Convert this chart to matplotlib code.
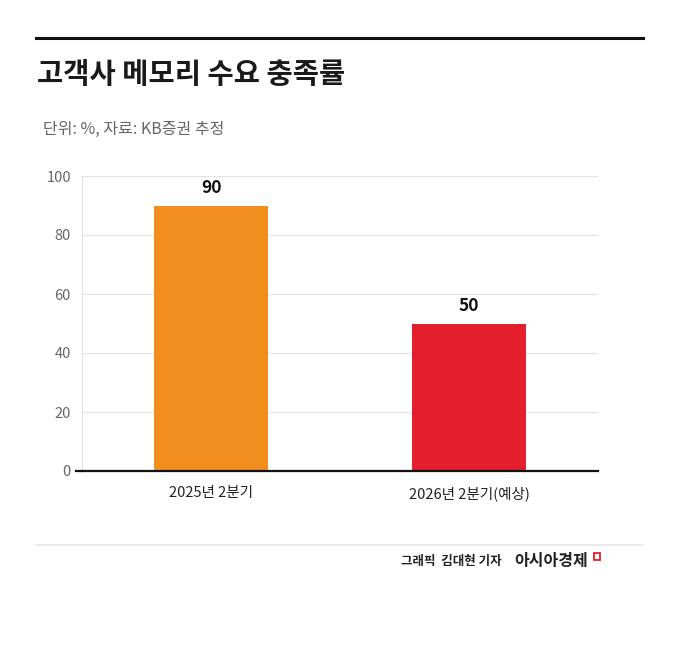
import matplotlib.pyplot as plt
from matplotlib.lines import Line2D
from matplotlib.patches import Rectangle

plt.rcParams['font.family'] = ['Noto Sans CJK KR', 'DejaVu Sans']

categories = ["2025년 2분기", "2026년 2분기(예상)"]
values = [90, 50]
colors = ["#F28E1E", "#E31E2D"]
yticks = [0, 20, 40, 60, 80, 100]

fig = plt.figure(figsize=(6.8, 6.72), dpi=100)
fig.patch.set_facecolor("white")

# title block
fig.add_artist(Line2D([36/680, 643/680], [1-38/672, 1-38/672], color="#111111", lw=2.2))
fig.text(37/680, 1-75/672, "고객사 메모리 수요 충족률", fontsize=20.5, fontweight="bold",
         color="#1a1a1a", va="center", ha="left")
fig.text(43/680, 1-129/672, "단위: %, 자료: KB증권 추정", fontsize=11.5,
         color="#666666", va="center", ha="left")

ax = fig.add_axes([82/680, 1-471/672, 516/680, 295/672])
x = range(len(categories))
ax.bar(x, values, width=0.44, color=colors, zorder=3)
for i, v in enumerate(values):
    ax.text(i, v + 6, str(v), ha="center", va="center", fontsize=12.5,
            fontweight="bold", color="#111111")

ax.set_xlim(-0.5, 1.5)
ax.set_ylim(0, 100)
ax.set_yticks(yticks)
ax.set_xticks(list(x))
ax.set_xticklabels(categories, fontsize=10.5, color="#222222")
ax.tick_params(axis="y", labelsize=10.5, labelcolor="#666666", length=0, pad=8)
ax.tick_params(axis="x", length=0, pad=11)
ax.grid(axis="y", color="#e4e4e4", lw=0.8, zorder=0)
for s in ["top", "right"]:
    ax.spines[s].set_visible(False)
ax.spines["left"].set_color("#e4e4e4")
ax.spines["left"].set_linewidth(0.8)
ax.spines["bottom"].set_color("#111111")
ax.spines["bottom"].set_linewidth(1.6)
ax.spines["bottom"].set_zorder(4)
fig.add_artist(Line2D([76/680, 82/680], [1-471/672, 1-471/672], color="#111111", lw=1.6))

# footer
fig.add_artist(Line2D([36/680, 643/680], [1-545/672, 1-545/672], color="#e6e6e6", lw=1.2))
fig.text(401/680, 1-562/672, "그래픽  김대현 기자", fontsize=9, fontweight="bold",
         color="#222222", va="center", ha="left")
fig.text(514/680, 1-561/672, "아시아경제", fontsize=11.5, fontweight="bold",
         color="#222222", va="center", ha="left")
fig.add_artist(Rectangle((594/680, 1-560/672), 6/680, 7/672, transform=fig.transFigure,
                         facecolor="white", edgecolor="#E31E2D", lw=1.3))

fig.savefig("out.png", dpi=100, facecolor="white")
